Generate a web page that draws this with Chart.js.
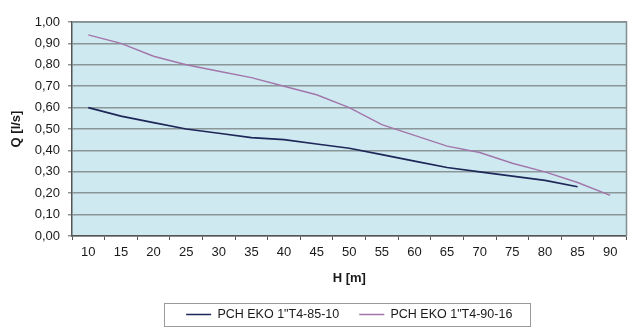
<!DOCTYPE html>
<html>
<head>
<meta charset="utf-8">
<script src="https://cdn.jsdelivr.net/npm/chart.js@4/dist/chart.umd.min.js"></script>
<style>
  html, body { margin: 0; padding: 0; background: #ffffff; }
  #wrap { width: 640px; height: 332px; }
</style>
</head>
<body>
<div id="wrap"><canvas id="c" width="640" height="332"></canvas></div>
<script>
// Head H [m]
const heads = ['10','15','20','25','30','35','40','45','50','55','60','65','70','75','80','85','90'];
// Flow Q [l/s] per pump model
const flowEko85 = [0.60,0.56,0.53,0.50,0.48,0.46,0.45,0.43,0.41,0.38,0.35,0.32,0.30,0.28,0.26,0.23,null];
const flowEko90 = [0.94,0.90,0.84,0.80,0.77,0.74,0.70,0.66,0.60,0.52,0.47,0.42,0.39,0.34,0.30,0.25,0.19];
const seriesNames = ['PCH EKO 1"T4-85-10', 'PCH EKO 1"T4-90-16'];
const yTicks = [0,0.1,0.2,0.3,0.4,0.5,0.6,0.7,0.8,0.9,1.0];

const FONT = '"Liberation Sans", Arial, sans-serif';

// light blue plot background + grey frame, and a frame around the legend
const frame = {
  id: 'frame',
  afterUpdate(chart) {
    // centre the legend under the plot area rather than the whole canvas
    const lg = chart.legend;
    if (!lg || !lg.legendHitBoxes) return;
    const a = chart.chartArea;
    const shift = ((a.left + a.right) - (lg.left + lg.right)) / 2;
    lg.left += shift;
    lg.right += shift;
    lg.legendHitBoxes.forEach(h => { h.left += shift; });
  },
  beforeDraw(chart) {
    const a = chart.chartArea, ctx = chart.ctx;
    ctx.save();
    ctx.fillStyle = '#cfe9f1';
    ctx.fillRect(a.left, a.top, a.right - a.left, a.bottom - a.top);
    ctx.restore();
  },
  afterDatasetsDraw(chart) {
    const a = chart.chartArea, ctx = chart.ctx;
    ctx.save();
    ctx.strokeStyle = '#848e90';
    ctx.lineWidth = 1.5;
    ctx.beginPath();
    ctx.moveTo(a.left, a.top);
    ctx.lineTo(a.right, a.top);
    ctx.lineTo(a.right, a.bottom);
    ctx.stroke();
    ctx.restore();
  },
  afterDraw(chart) {
    const lg = chart.legend;
    if (!lg || !lg.legendHitBoxes || !lg.legendHitBoxes.length) return;
    const hb = lg.legendHitBoxes;
    const first = hb[0], last = hb[hb.length - 1];
    const cy = first.top + first.height / 2;
    const x0 = Math.round(first.left - 22) + 0.5;
    const x1 = Math.round(last.left + last.width + 18) + 0.5;
    const y0 = Math.round(cy - 11.5) + 0.5;
    const y1 = Math.round(cy + 11.5) + 0.5;
    const ctx = chart.ctx;
    ctx.save();
    ctx.strokeStyle = '#9a9a9a';
    ctx.lineWidth = 1;
    ctx.strokeRect(x0, y0, x1 - x0, y1 - y0);
    ctx.restore();
  }
};

new Chart(document.getElementById('c'), {
  type: 'line',
  data: {
    labels: heads,
    datasets: [
      { label: seriesNames[0], data: flowEko85, borderColor: '#1d2758', backgroundColor: '#1d2758',
        borderWidth: 1.7, pointRadius: 0, tension: 0, spanGaps: false },
      { label: seriesNames[1], data: flowEko90, borderColor: '#a276aa', backgroundColor: '#a276aa',
        borderWidth: 1.4, pointRadius: 0, tension: 0 }
    ]
  },
  options: {
    responsive: false,
    animation: false,
    layout: { padding: { left: 4, right: 13.5, top: 22, bottom: 1.25 } },
    plugins: {
      tooltip: { enabled: false },
      legend: {
        position: 'bottom',
        labels: {
          usePointStyle: true,
          pointStyle: 'line',
          pointStyleWidth: 25,
          padding: 20,
          color: '#1a1a1a',
          font: { family: FONT, size: 12.5 }
        }
      }
    },
    scales: {
      x: {
        type: 'category',
        offset: true,
        grid: { display: true, drawOnChartArea: false, drawTicks: true, tickLength: 4, offset: true, color: '#555555' },
        border: { display: true, color: '#555555', width: 1.5 },
        ticks: { color: '#1a1a1a', padding: 4.2, maxRotation: 0, autoSkip: false, font: { family: FONT, size: 13 } },
        title: { display: true, text: 'H [m]', color: '#1a1a1a', font: { family: FONT, size: 13, weight: 'bold' },
                 padding: { top: 0, bottom: 2.45 } },
        afterFit(scale) { scale.height = 52.25; }
      },
      y: {
        min: 0, max: 1,
        afterBuildTicks(scale) { scale.ticks = yTicks.map(v => ({ value: v })); },
        grid: { color: '#8a9698', lineWidth: 1.5, drawTicks: true, tickLength: 4 },
        border: { display: true, color: '#555555', width: 1.5 },
        ticks: {
          color: '#1a1a1a', padding: 8,
          font: { family: FONT, size: 13 },
          callback: v => Number(v).toFixed(2).replace('.', ',')
        },
        title: { display: true, text: 'Q [l/s]', color: '#1a1a1a', font: { family: FONT, size: 13, weight: 'bold' },
                 padding: { top: 4.2, bottom: 0 } },
        afterFit(scale) { scale.width = 68; }
      }
    }
  },
  plugins: [frame]
});
</script>
</body>
</html>
